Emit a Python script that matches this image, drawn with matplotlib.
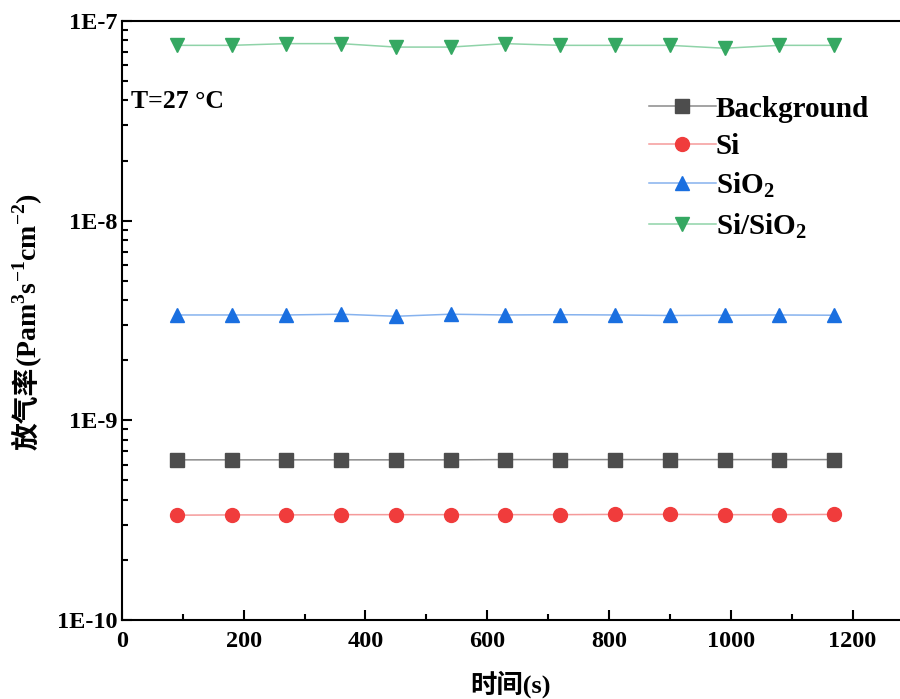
import matplotlib.pyplot as plt
from matplotlib.ticker import FixedLocator, MultipleLocator, LogLocator, NullFormatter

plt.rcParams['font.family'] = ['Liberation Serif', 'Noto Sans CJK SC']
plt.rcParams['font.weight'] = 'bold'
plt.rcParams['mathtext.fontset'] = 'custom'
plt.rcParams['mathtext.rm'] = 'Liberation Serif:bold'
plt.rcParams['mathtext.bf'] = 'Liberation Serif:bold'

# time (s)
time_s = [90, 180, 270, 360, 450, 540, 630, 720, 810, 900, 990, 1080, 1170]

# outgassing rate (Pa m3 s-1 cm-2)
background = [6.34e-10, 6.34e-10, 6.34e-10, 6.34e-10, 6.34e-10, 6.34e-10, 6.36e-10,
              6.36e-10, 6.36e-10, 6.36e-10, 6.36e-10, 6.36e-10, 6.36e-10]
si = [3.35e-10, 3.36e-10, 3.36e-10, 3.37e-10, 3.37e-10, 3.37e-10, 3.37e-10,
      3.37e-10, 3.38e-10, 3.38e-10, 3.37e-10, 3.37e-10, 3.38e-10]
sio2 = [3.37e-9, 3.37e-9, 3.37e-9, 3.40e-9, 3.32e-9, 3.40e-9, 3.37e-9,
        3.38e-9, 3.37e-9, 3.35e-9, 3.36e-9, 3.37e-9, 3.36e-9]
si_sio2 = [7.55e-8, 7.55e-8, 7.7e-8, 7.7e-8, 7.4e-8, 7.4e-8, 7.7e-8,
           7.55e-8, 7.55e-8, 7.55e-8, 7.3e-8, 7.55e-8, 7.55e-8]

series = [
    ('Background', background, 's', '#4d4d4d', '#8a8a8a'),
    ('Si', si, 'o', '#f03c3c', '#f59a9a'),
    ('SiO$_2$', sio2, '^', '#1a6fe0', '#86b2ee'),
    ('Si/SiO$_2$', si_sio2, 'v', '#35a862', '#8fd3a8'),
]

fig = plt.figure(figsize=(9, 6.99), dpi=100)
ax = fig.add_axes([0.1355, 0.113, 0.8645, 0.857])

for label, vals, mk, mc, lc in series:
    ax.plot(time_s, vals, color=lc, lw=1.1, marker=mk, markersize=10,
            markerfacecolor=mc, markeredgecolor=mc, label=label)

ax.set_yscale('log')
ax.set_ylim(1e-10, 1e-7)
ax.set_xlim(0, 1278)
ax.xaxis.set_major_locator(MultipleLocator(200))
ax.xaxis.set_minor_locator(MultipleLocator(100))
ax.yaxis.set_major_locator(FixedLocator([1e-10, 1e-9, 1e-8, 1e-7]))
ax.yaxis.set_minor_locator(LogLocator(base=10, subs=range(2, 10)))
ax.yaxis.set_minor_formatter(NullFormatter())
ax.set_yticklabels(['1E-10', '1E-9', '1E-8', '1E-7'])

ax.tick_params(which='both', direction='in', width=1.5, labelsize=17.5)
ax.tick_params(which='major', length=7)
ax.tick_params(which='minor', length=4)
ax.tick_params(axis='x', pad=8)
ax.spines['right'].set_visible(False)
for s in ['left', 'bottom', 'top']:
    ax.spines[s].set_linewidth(1.5)

ax.set_xlabel('时间(s)', fontsize=19, fontweight='bold', labelpad=13)

# y label: Chinese part and unit part drawn separately (mathtext can't do CJK)
ax.text(-0.121, 0.422, '放气率', transform=ax.transAxes, rotation=90,
        fontsize=20, fontweight='bold', ha='center', va='top')
ax.text(-0.121, 0.422, '(Pam$^3$s$^{-1}$cm$^{-2}$)', transform=ax.transAxes,
        rotation=90, fontsize=20, fontweight='bold', ha='center', va='bottom')

ax.text(0.011, 0.865, 'T=27 °C', transform=ax.transAxes, fontsize=18.5,
        fontweight='bold', va='center', ha='left')

ax.legend(loc='upper left', bbox_to_anchor=(0.662, 0.895), frameon=False,
          fontsize=21, handlelength=2.3, handletextpad=0.0,
          labelspacing=0.36, borderaxespad=0)

fig.savefig('out.png', dpi=100)
